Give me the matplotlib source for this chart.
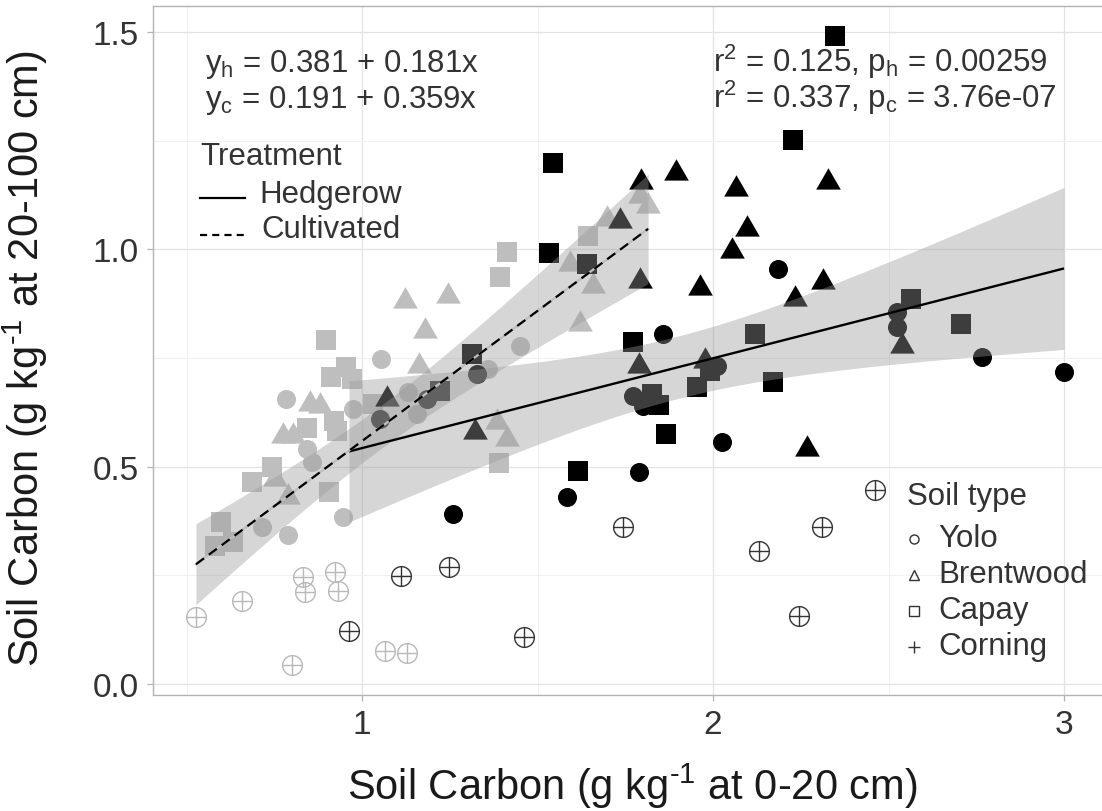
import numpy as np
import matplotlib
matplotlib.use('Agg')
import matplotlib.pyplot as plt
from matplotlib.lines import Line2D

plt.rcParams['font.family'] = ['Liberation Sans', 'DejaVu Sans']
plt.rcParams['mathtext.fontset'] = 'custom'
plt.rcParams['mathtext.rm'] = 'Liberation Sans'
plt.rcParams['mathtext.it'] = 'Liberation Sans:italic'
plt.rcParams['mathtext.bf'] = 'Liberation Sans:bold'

# ---------------- data ----------------
# Hedgerow
hedge_yolo_x = [1.259, 1.584, 1.789, 2.026, 1.858, 2.185, 2.766, 3.000, 1.328, 1.185, 1.051, 1.772, 1.800, 2.011, 2.524, 2.524]
hedge_yolo_y = [0.391, 0.430, 0.488, 0.557, 0.805, 0.955, 0.752, 0.718, 0.713, 0.656, 0.610, 0.663, 0.640, 0.732, 0.856, 0.821]
hedge_brent_x = [1.795, 1.895, 2.066, 2.328, 2.097, 2.054, 1.963, 2.313, 2.234, 2.268, 1.735, 1.792, 1.789, 1.977, 1.322, 1.071, 2.538]
hedge_brent_y = [1.155, 1.176, 1.139, 1.155, 1.047, 0.996, 0.911, 0.925, 0.886, 0.541, 1.065, 0.927, 0.732, 0.743, 0.580, 0.656, 0.778]
hedge_capay_x = [2.348, 2.228, 1.544, 1.533, 1.641, 1.313, 1.222, 1.772, 2.120, 1.826, 1.846, 1.991, 1.954, 2.171, 1.866, 1.615, 2.564, 2.707]
hedge_capay_y = [1.491, 1.252, 1.199, 0.992, 0.966, 0.759, 0.674, 0.787, 0.805, 0.667, 0.642, 0.720, 0.683, 0.695, 0.575, 0.490, 0.886, 0.828]
hedge_corn_x = [0.963, 1.111, 1.248, 1.462, 1.744, 2.131, 2.311, 2.245, 2.462]
hedge_corn_y = [0.122, 0.248, 0.269, 0.108, 0.361, 0.306, 0.361, 0.156, 0.446]
# Cultivated
cult_yolo_x = [1.054, 1.450, 1.359, 0.783, 0.974, 1.131, 1.157, 0.843, 0.858, 0.946, 0.715, 0.789]
cult_yolo_y = [0.748, 0.778, 0.725, 0.656, 0.633, 0.672, 0.621, 0.541, 0.511, 0.384, 0.361, 0.343]
cult_brent_x = [1.123, 1.245, 1.179, 1.162, 0.852, 0.880, 1.385, 1.413, 0.775, 0.803, 0.752, 0.789, 1.698, 1.792, 1.815, 1.593, 1.658, 1.621]
cult_brent_y = [0.881, 0.893, 0.812, 0.732, 0.644, 0.640, 0.603, 0.564, 0.571, 0.571, 0.472, 0.430, 1.070, 1.123, 1.100, 0.966, 0.916, 0.828]
cult_capay_x = [0.897, 0.954, 0.912, 0.972, 1.031, 0.920, 0.929, 0.843, 0.744, 0.687, 0.906, 0.598, 0.581, 0.632, 1.413, 1.393, 1.644, 1.390]
cult_capay_y = [0.791, 0.729, 0.706, 0.702, 0.644, 0.605, 0.582, 0.589, 0.499, 0.465, 0.442, 0.373, 0.317, 0.327, 0.994, 0.936, 1.031, 0.508]
cult_corn_x = [0.832, 0.923, 0.838, 0.932, 0.658, 0.527, 0.801, 1.066, 1.128]
cult_corn_y = [0.246, 0.258, 0.212, 0.214, 0.191, 0.154, 0.044, 0.076, 0.071]

x_ticks = [1, 2, 3]
y_ticks = [0.0, 0.5, 1.0, 1.5]
y_tick_labels = ['0.0', '0.5', '1.0', '1.5']
eq_lines = [r'y$_{\mathrm{h}}$ = 0.381 + 0.181x', r'y$_{\mathrm{c}}$ = 0.191 + 0.359x']
stat_lines = [r'r$^{\mathrm{2}}$ = 0.125, p$_{\mathrm{h}}$ = 0.00259', r'r$^{\mathrm{2}}$ = 0.337, p$_{\mathrm{c}}$ = 3.76e-07']
soil_types = ['Yolo', 'Brentwood', 'Capay', 'Corning']
treatments = ['Hedgerow', 'Cultivated']
x_title = 'Soil Carbon (g kg$^{\u2010\\mathrm{1}}$ at 0-20 cm)'
y_title = 'Soil Carbon (g kg$^{\u2010\\mathrm{1}}$ at 20-100 cm)'

# ---------------- helpers ----------------
W, H = 1102, 812


def fx(px):
    return px / W


def fy(py):
    return 1 - py / H


def t_quantile(df):
    z = 1.959963985
    g1 = (z**3 + z) / 4
    g2 = (5*z**5 + 16*z**3 + 3*z) / 96
    g3 = (3*z**7 + 19*z**5 + 17*z**3 - 15*z) / 384
    return z + g1/df + g2/df**2 + g3/df**3


def fit_band(x, y, n=80):
    x = np.asarray(x, float)
    y = np.asarray(y, float)
    b1, b0 = np.polyfit(x, y, 1)
    xs = np.linspace(x.min(), x.max(), n)
    yhat = b0 + b1 * xs
    resid = y - (b0 + b1 * x)
    dof = len(x) - 2
    s = np.sqrt(np.sum(resid**2) / dof)
    xbar = x.mean()
    sxx = np.sum((x - xbar)**2)
    se = s * np.sqrt(1/len(x) + (xs - xbar)**2 / sxx)
    tq = t_quantile(dof)
    return xs, yhat, yhat - tq*se, yhat + tq*se


tri = [(-1, -0.577), (1, -0.577), (0, 1.155)]

fig = plt.figure(figsize=(W/100, H/100), dpi=100)
ax = fig.add_axes([fx(153), fy(696), (1107.5-153)/W, (696-7)/H])

x0 = 1 + (153 - 362) / 351
x1 = 1 + (1107.5 - 362) / 351
y0 = (685 - 696) / 434.67
y1 = (685 - 7) / 434.67
ax.set_xlim(x0, x1)
ax.set_ylim(y0, y1)

# grid
ax.set_xticks(x_ticks)
ax.set_xticklabels([str(v) for v in x_ticks])
ax.set_yticks(y_ticks)
ax.set_yticklabels(y_tick_labels)
ax.set_xticks([0.5, 1.5, 2.5], minor=True)
ax.set_yticks([0.25, 0.75, 1.25], minor=True)
ax.grid(True, which='major', color='#E3E3E3', lw=0.9, zorder=0)
ax.grid(True, which='minor', color='#EEEEEE', lw=0.6, zorder=0)
ax.set_axisbelow(True)
ax.tick_params(which='minor', length=0)
ax.tick_params(which='major', length=4, width=0.9, color='#B3B3B3',
               labelsize=24, labelcolor='#333333', pad=6)
for name, sp in ax.spines.items():
    sp.set_color('#B3B3B3')
    sp.set_linewidth(1.0)
ax.spines['right'].set_visible(False)

GRAY = '#BEBEBE'
BLACK = '#000000'

# points: cultivated first
ax.plot(cult_yolo_x, cult_yolo_y, 'o', ms=13.7, color=GRAY, mew=0, zorder=2)
ax.plot(cult_brent_x, cult_brent_y, marker=tri, ls='none', ms=20.5, color=GRAY, mew=0, zorder=2)
ax.plot(cult_capay_x, cult_capay_y, 's', ms=13.8, color=GRAY, mew=0, zorder=2)
ax.plot(hedge_yolo_x, hedge_yolo_y, 'o', ms=13.7, color=BLACK, mew=0, zorder=2)
ax.plot(hedge_brent_x, hedge_brent_y, marker=tri, ls='none', ms=20.5, color=BLACK, mew=0, zorder=2)
ax.plot(hedge_capay_x, hedge_capay_y, 's', ms=13.8, color=BLACK, mew=0, zorder=2)
for cx, cy, col in [(cult_corn_x, cult_corn_y, '#B8B8B8'), (hedge_corn_x, hedge_corn_y, '#333333')]:
    ax.plot(cx, cy, 'o', ms=14.2, mfc='none', mec=col, mew=1.0, zorder=2)
    ax.plot(cx, cy, '+', ms=14.2, mec=col, mew=1.0, zorder=2)

# regression fits with 95% CI
hx = hedge_yolo_x + hedge_brent_x + hedge_capay_x + hedge_corn_x
hy = hedge_yolo_y + hedge_brent_y + hedge_capay_y + hedge_corn_y
cx_all = cult_yolo_x + cult_brent_x + cult_capay_x + cult_corn_x
cy_all = cult_yolo_y + cult_brent_y + cult_capay_y + cult_corn_y

for xx, yy, style in [(hx, hy, 'solid'), (cx_all, cy_all, 'dashed')]:
    xs, yh, lo, hi = fit_band(xx, yy)
    ax.fill_between(xs, lo, hi, color='#999999', alpha=0.4, lw=0, zorder=3)
    if style == 'solid':
        ax.plot(xs, yh, color='black', lw=1.7, zorder=4, solid_capstyle='butt')
    else:
        ax.plot(xs, yh, color='#BEBEBE', lw=1.6, zorder=4)
        ax.plot(xs, yh, color='black', lw=1.6, ls=(0, (4.5, 2.7)), zorder=5)

# axis labels
ax.set_xlabel(x_title, fontsize=30, color='#1A1A1A')
ax.set_ylabel(y_title, fontsize=30, color='#1A1A1A')
ax.xaxis.set_label_coords((632 - 153) / 954.5, (696 - 762) / 689)
ax.yaxis.set_label_coords((50 - 153) / 954.5, (696 - 359) / 689)

# annotations
TXT = '#333333'
fs = 22.5
fig.text(fx(205), fy(72), eq_lines[0], fontsize=fs, color=TXT, va='baseline', ha='left')
fig.text(fx(205), fy(108), eq_lines[1], fontsize=fs, color=TXT, va='baseline', ha='left')
fig.text(fx(713), fy(72), stat_lines[0], fontsize=fs, color=TXT, va='baseline', ha='left')
fig.text(fx(713), fy(108), stat_lines[1], fontsize=fs, color=TXT, va='baseline', ha='left')

# treatment legend
fig.text(fx(200), fy(165), 'Treatment', fontsize=fs, color=TXT, va='baseline', ha='left')
fig.text(fx(259), fy(203), treatments[0], fontsize=fs, color=TXT, va='baseline', ha='left')
fig.text(fx(261), fy(238), treatments[1], fontsize=fs, color=TXT, va='baseline', ha='left')
fig.add_artist(Line2D([fx(200), fx(245)], [fy(199), fy(199)], color='black', lw=1.6))
fig.add_artist(Line2D([fx(200), fx(245)], [fy(236), fy(236)], color='black', lw=1.6,
                      ls=(0, (3.2, 2.3))))

# soil type legend
fig.text(fx(907), fy(505), 'Soil type', fontsize=fs, color=TXT, va='baseline', ha='left')
leg_marks = ['o', '^', 's', '+']
for i, (lab, mk) in enumerate(zip(soil_types, leg_marks)):
    yb = 547 + 36 * i
    fig.text(fx(938), fy(yb), lab, fontsize=fs, color=TXT, va='baseline', ha='left')
    fig.add_artist(Line2D([fx(914)], [fy(yb - 7)], marker=mk, ms=6.5 if mk != '+' else 8,
                          mfc='none', mec='#333333', mew=1.0, ls='none'))

fig.savefig('out.png', dpi=100)
